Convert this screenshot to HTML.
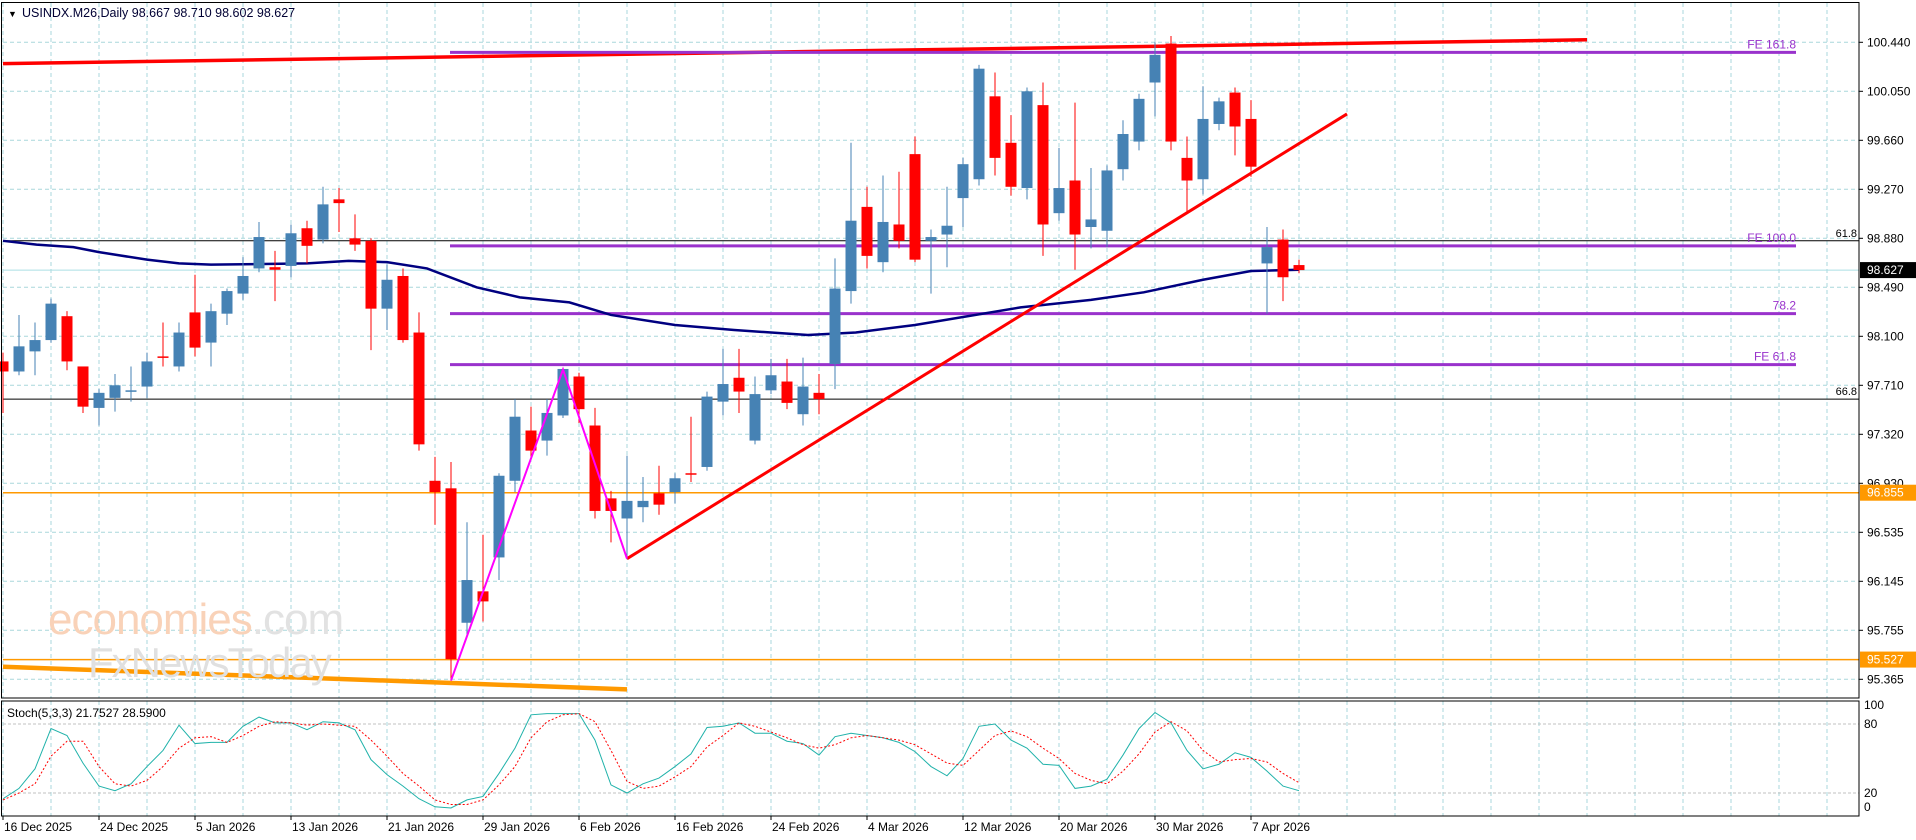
<!DOCTYPE html>
<html><head><meta charset="utf-8"><style>
body{margin:0;background:#fff;width:1916px;height:840px;overflow:hidden}
svg{display:block;font-family:"Liberation Sans",sans-serif}
</style></head><body>
<svg id="chart" width="1916" height="840" xmlns="http://www.w3.org/2000/svg"></svg>
<script>
// ---- data ----
const dateLabels = ["16 Dec 2025","24 Dec 2025","5 Jan 2026","13 Jan 2026","21 Jan 2026","29 Jan 2026","6 Feb 2026","16 Feb 2026","24 Feb 2026","4 Mar 2026","12 Mar 2026","20 Mar 2026","30 Mar 2026","7 Apr 2026"];
const priceTicks = ["100.440","100.050","99.660","99.270","98.880","98.490","98.100","97.710","97.320","96.930","96.535","96.145","95.755","95.365"];
const opens = [97.90,97.82,97.98,98.07,98.26,97.86,97.53,97.61,97.66,97.70,97.94,97.86,98.29,98.05,98.28,98.44,98.64,98.65,98.66,98.96,98.87,99.19,98.88,98.86,98.32,98.58,98.13,96.95,96.89,95.82,96.07,96.34,96.95,97.35,97.27,97.47,97.78,97.39,96.81,96.65,96.74,96.85,96.86,97.01,97.06,97.58,97.77,97.27,97.67,97.74,97.48,97.65,97.88,98.46,99.13,98.69,98.99,99.55,98.86,98.91,99.20,99.35,100.01,99.64,99.28,99.94,99.08,99.34,98.97,98.94,99.43,99.65,100.12,100.43,99.52,99.35,99.79,100.04,99.83,98.68,98.87,98.667];
const highs = [97.97,98.27,98.21,98.40,98.30,97.86,97.68,97.80,97.86,97.97,98.21,98.21,98.59,98.36,98.48,98.73,99.01,98.78,98.99,99.02,99.29,99.28,99.07,98.88,98.67,98.64,98.29,97.14,97.10,96.62,96.52,97.01,97.60,97.54,97.60,97.85,97.81,97.53,96.87,97.15,96.98,97.07,97.01,97.46,97.66,98.00,98.00,97.78,97.92,97.92,97.93,97.80,98.72,99.64,99.29,99.38,99.41,99.69,98.95,99.29,99.52,100.26,100.20,99.86,100.08,100.12,99.60,99.96,99.44,99.46,99.82,100.03,100.44,100.49,99.69,100.09,100.00,100.08,99.98,98.97,98.95,98.710];
const lows = [97.49,97.79,97.79,98.05,97.83,97.49,97.39,97.50,97.58,97.61,97.86,97.82,97.94,97.86,98.19,98.39,98.61,98.38,98.57,98.68,98.84,98.93,98.78,97.99,98.15,98.05,97.19,96.60,95.36,95.71,95.83,96.16,96.86,97.14,97.15,97.45,97.41,96.65,96.46,96.33,96.62,96.68,96.77,96.94,97.03,97.47,97.49,97.24,97.64,97.52,97.39,97.48,97.68,98.36,98.64,98.61,98.80,98.69,98.44,98.65,98.97,99.30,99.38,99.22,99.19,98.74,99.02,98.63,98.80,98.81,99.34,99.58,99.85,99.58,99.09,99.23,99.74,99.54,99.37,98.28,98.38,98.602];
const closes = [97.82,98.02,98.07,98.36,97.90,97.54,97.65,97.71,97.67,97.90,97.93,98.13,98.01,98.30,98.46,98.58,98.89,98.63,98.92,98.82,99.15,99.16,98.83,98.32,98.55,98.07,97.24,96.86,95.53,96.16,95.99,96.99,97.46,97.19,97.49,97.84,97.52,96.71,96.71,96.79,96.79,96.76,96.97,97.00,97.62,97.72,97.66,97.64,97.79,97.57,97.70,97.60,98.48,99.02,98.74,99.01,98.86,98.71,98.89,98.98,99.47,100.23,99.52,99.29,100.05,98.99,99.28,98.91,99.03,99.42,99.71,99.99,100.34,99.65,99.34,99.83,99.97,99.77,99.45,98.81,98.57,98.627];
const maIdx = [0,2.1,4.4,6,9,11,13,19,21.6,24,26.5,29.6,32.3,35.4,38,42,45.7,50.3,53.3,57,63.6,68,71.3,75,78,81];
const maVal = [98.86,98.83,98.81,98.77,98.71,98.68,98.67,98.68,98.70,98.69,98.64,98.49,98.41,98.37,98.27,98.19,98.15,98.11,98.13,98.19,98.33,98.39,98.45,98.55,98.62,98.63];
const stochMain = [15,24,41,76,70,46,26,22,28,43,57,79,63,64,64,78,86,81,81,75,82,81,75,49,36,26,15,8,7,14,17,37,59,88,89,89,89,66,27,20,28,33,43,54,77,78,81,72,72,65,63,53,69,72,70,68,64,56,43,35,50,78,80,66,59,45,44,24,26,32,53,76,90,81,57,41,45,55,51,39,26,22];
const stochSignal = [14,20,28,52,65,65,43,28,26,31,43,59,68,69,64,70,78,82,81,79,80,79,78,66,52,37,26,14,10,10,14,27,43,68,82,88,89,82,57,30,24,26,34,43,60,70,81,78,73,68,62,59,62,68,70,68,66,62,54,46,44,57,70,74,69,59,50,37,31,28,39,54,73,82,74,57,47,49,50,47,37,29];
const fiboLevels = [100.36,98.82,98.28,97.875];
const fiboNames = ["FE 161.8","FE 100.0","78.2","FE 61.8"];
const hLevels = [98.86,97.60];
const hNames = ["61.8","66.8"];
const supportLevels = [96.855,95.527];
const lastPrice = 98.627;
// trend/zigzag anchors in (bar index, price)
const zigIdx = [28,35,39], zigVal = [95.36,97.835,96.33];
const trendIdx = [39,84], trendVal = [96.33,99.87];
const chanTopIdx = [0,99], chanTopVal = [100.27,100.46];
const chanBotIdx = [0,39], chanBotVal = [95.47,95.29];

// ---- axes ----
const X0=3, STEP=16, AX=1859, TOP=3, BOT=698, ST=701, SB=816;
const xOf=i=>X0+STEP*i;
const yOf=p=>42.3+(100.44-p)*125.64;
const sY=v=>816-v*1.15;
const NS="http://www.w3.org/2000/svg", svg=document.getElementById('chart');
function mk(t,a,parent){const e=document.createElementNS(NS,t);for(const k in a)e.setAttribute(k,a[k]);(parent||svg).appendChild(e);return e;}

// grid
const grid=mk('g',{});


for(let x=X0;x<AX;x+=48){mk('line',{x1:x,y1:TOP,x2:x,y2:BOT,stroke:'#a9d7dc','stroke-dasharray':'4,3'},grid);mk('line',{x1:x,y1:ST,x2:x,y2:SB,stroke:'#a9d7dc','stroke-dasharray':'4,3'},grid);}
priceTicks.forEach((t,k)=>{const y=42.3+49*k;mk('line',{x1:X0,y1:y,x2:AX,y2:y,stroke:'#a9d7dc','stroke-dasharray':'4,3'},grid);});
[80,20].forEach(v=>mk('line',{x1:X0,y1:sY(v),x2:AX,y2:sY(v),stroke:'#c0c0c0','stroke-dasharray':'3,2'},grid));

// horizontal lines
hLevels.forEach((p,k)=>{const l=mk('line',{x1:X0,y1:yOf(p),x2:AX,y2:yOf(p),stroke:'#000'});


const t=mk('text',{x:AX-2,y:yOf(p)-4,'font-size':11,'text-anchor':'end',fill:'#000'});t.textContent=hNames[k];

});
const lp=mk('line',{x1:X0,y1:yOf(lastPrice),x2:AX,y2:yOf(lastPrice),stroke:'#aadfe4'});


supportLevels.forEach(p=>{const l=mk('line',{x1:X0,y1:yOf(p),x2:AX,y2:yOf(p),stroke:'#ff9900','stroke-width':1.5});

});

// channel lines
const ct=mk('line',{x1:xOf(chanTopIdx[0]),y1:yOf(chanTopVal[0]),x2:xOf(chanTopIdx[1]),y2:yOf(chanTopVal[1]),stroke:'#ff0000','stroke-width':3.5});


const cb=mk('line',{x1:xOf(chanBotIdx[0]),y1:yOf(chanBotVal[0]),x2:xOf(chanBotIdx[1]),y2:yOf(chanBotVal[1]),stroke:'#ff9900','stroke-width':4.5});



// fibo lines
fiboLevels.forEach((p,k)=>{const l=mk('line',{x1:450,y1:yOf(p),x2:1796,y2:yOf(p),stroke:'#9932cc','stroke-width':3});


const t=mk('text',{x:1796,y:yOf(p)-4,'font-size':12,'text-anchor':'end',fill:'#9932cc'});t.textContent=fiboNames[k];

});

// moving average
const ma=mk('polyline',{points:maIdx.map((d,k)=>xOf(d)+','+yOf(maVal[k])).join(' '),fill:'none',stroke:'#000080','stroke-width':2.5});



// candles
const cg=mk('g',{});


opens.forEach((o,i)=>{const c=closes[i],up=c>=o,col=up?'#4682b4':'#ff0000',x=xOf(i);
const g=mk('g',{},cg);


mk('line',{x1:x,y1:yOf(highs[i]),x2:x,y2:yOf(lows[i]),stroke:col},g);
const t=yOf(Math.max(o,c)),b=yOf(Math.min(o,c));
mk('rect',{x:x-5.5,y:t,width:11,height:Math.max(b-t,1.5),fill:col},g);});

// trendline & zigzag
const tr=mk('line',{x1:xOf(trendIdx[0]),y1:yOf(trendVal[0]),x2:xOf(trendIdx[1]),y2:yOf(trendVal[1]),stroke:'#ff0000','stroke-width':3});


const zz=mk('polyline',{points:zigIdx.map((d,k)=>xOf(d)+','+yOf(zigVal[k])).join(' '),fill:'none',stroke:'#ff00ff','stroke-width':2});



// stochastic
const sm=mk('polyline',{points:stochMain.map((v,i)=>xOf(i)+','+sY(v)).join(' '),fill:'none',stroke:'#20b2aa','stroke-width':1});


const ss=mk('polyline',{points:stochSignal.map((v,i)=>xOf(i)+','+sY(v)).join(' '),fill:'none',stroke:'#ff0000','stroke-width':1,'stroke-dasharray':'2,2'});



// borders
const b1=mk('rect',{x:1.5,y:2.5,width:AX-1.5,height:BOT-2.5,fill:'none',stroke:'#000'});


const b2=mk('rect',{x:1.5,y:ST,width:AX-1.5,height:SB-ST,fill:'none',stroke:'#000'});



// price axis labels
priceTicks.forEach((t,k)=>{const y=42.3+49*k;mk('line',{x1:AX,y1:y,x2:AX+4,y2:y,stroke:'#000'});
const e=mk('text',{x:1867,y:y+4,'font-size':12,fill:'#000'});e.textContent=t;

});
function tag(p,bg,name){const y=yOf(p);mk('rect',{x:AX+1,y:y-8,width:56,height:16,fill:bg});
const e=mk('text',{x:1867,y:y+4,'font-size':12,fill:'#fff'});e.textContent=p.toFixed(3);

}
tag(supportLevels[0],'#ff9900','support-price-tag');
tag(supportLevels[1],'#ff9900','support-price-tag');
tag(lastPrice,'#000','last-price-tag');
[["100",709],["80",728],["20",797],["0",811]].forEach(([t,y])=>{const e=mk('text',{x:1864,y:y,'font-size':12,fill:'#000'});e.textContent=t;

});

// date labels
dateLabels.forEach((d,k)=>{const x=xOf(6*k);mk('line',{x1:x,y1:SB,x2:x,y2:SB+4,stroke:'#000'});
const e=mk('text',{x:x+1,y:831,'font-size':12,fill:'#000'});e.textContent=d;

});
</script>
<svg style="position:absolute;left:0;top:0" width="1916" height="840">
<text x="8" y="17" font-size="9" fill="#000">▼</text>
<text x="22" y="17" font-family="Liberation Sans,sans-serif" font-size="12.5" fill="#000033">USINDX.M26,Daily  98.667 98.710 98.602 98.627</text>
<text x="7" y="717" font-family="Liberation Sans,sans-serif" font-size="12" fill="#000">Stoch(5,3,3) 21.7527 28.5900</text>
<text x="48" y="634" font-family="Liberation Sans,sans-serif" font-size="44" letter-spacing="-1"><tspan fill="#f9d2b8">economies</tspan><tspan fill="#e2e2e2">.com</tspan></text>
<text x="88" y="677" font-family="Liberation Sans,sans-serif" font-size="42" fill="#e0e0e0" letter-spacing="-2">FxNewsToday</text>
</svg>
</body></html>
